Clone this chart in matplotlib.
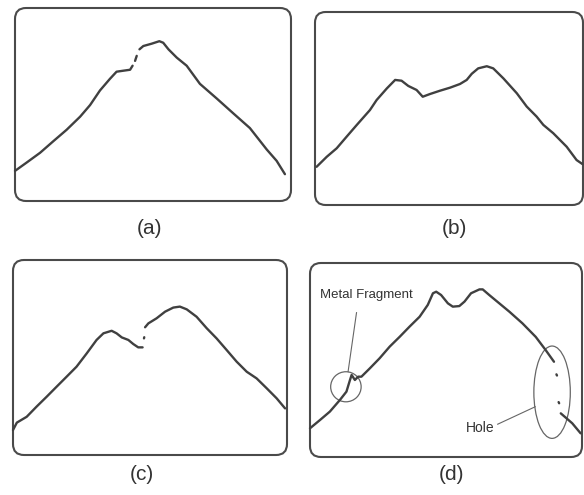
import matplotlib
matplotlib.use("Agg")
import matplotlib.pyplot as plt
import numpy as np
from matplotlib.patches import FancyBboxPatch, Ellipse

plt.rcParams['font.family'] = ['Liberation Sans', 'DejaVu Sans']

# traces, in percent of screen width / height (nan = gap in the trace)
a_x = [0, 4.2, 9.1, 13.9, 18.7, 23.6, 27.2, 30.8, 34.4, 36.8, 39.2, 41.7, 42.6,
       np.nan, 43.5, 44.1, np.nan, 45.1, 46.5, 49.5, 52.3, 53.7, 55.6, 58.6,
       62.2, 67.0, 73.1, 79.1, 85.1, 91.2, 94.8, 97.8]
a_y = [15.6, 19.9, 25.0, 31.0, 36.9, 43.7, 49.7, 57.3, 63.3, 67.0, 67.5, 68.0, 70.1,
       np.nan, 72.6, 75.2, np.nan, 78.6, 80.3, 81.5, 82.8, 82.0, 78.6, 74.3,
       70.1, 60.7, 53.1, 45.4, 37.8, 26.7, 20.8, 13.9]

b_x = [0.6, 4.4, 8.1, 11.8, 15.6, 20.5, 23.0, 26.8, 29.9, 32.3, 34.8, 37.9, 40.2,
       42.9, 46.6, 50.4, 54.1, 56.6, 58.5, 60.9, 64.1, 66.5, 70.3, 75.3, 79.0,
       82.7, 85.2, 88.9, 93.9, 97.6, 99.8]
b_y = [19.8, 25.0, 29.4, 35.4, 41.5, 49.2, 54.4, 60.4, 64.8, 64.4, 61.7, 59.6, 56.1,
       57.5, 59.2, 60.8, 62.7, 64.8, 68.0, 70.8, 71.9, 70.8, 65.6, 57.9, 51.0,
       45.8, 41.5, 37.2, 30.2, 23.3, 21.2]

c_x = [0, 1.4, 5.0, 8.6, 12.3, 15.9, 19.6, 23.2, 26.9, 30.5, 33.0, 36.0, 37.8,
       39.7, 42.1, 43.9, 45.7, 47.3, np.nan, 47.8, 47.9, np.nan, 48.2, 49.4, 52.4,
       55.5, 58.5, 60.9, 63.4, 67.0, 70.7, 74.3, 78.0, 81.6, 85.3, 88.9, 92.6,
       96.2, 99.3]
c_y = [12.8, 16.6, 19.6, 24.8, 29.9, 35.0, 40.2, 45.3, 52.1, 59.0, 62.4, 63.7, 62.4,
       60.3, 59.0, 56.9, 55.2, 55.2, np.nan, 59.8, 60.4, np.nan, 65.5, 67.5, 70.1,
       73.5, 75.6, 76.1, 74.7, 70.9, 65.0, 59.8, 53.8, 47.9, 42.7, 39.3, 34.2,
       29.1, 23.9]

d_x = [0, 3.7, 7.3, 11.0, 13.4, 14.7, 15.3, 16.5, 17.7, 18.9, 22.0, 25.6, 29.3,
       33.0, 36.6, 40.3, 43.3, 45.2, 46.4, 48.2, 50.7, 52.5, 54.9, 56.8, 59.2,
       62.3, 63.5, 65.9, 69.6, 73.3, 78.1, 83.0, 86.6, 89.7, np.nan, 90.6, 90.8,
       np.nan, 91.4, 91.6, np.nan, 92.2, 96.4, 99.5]
d_y = [14.8, 19.1, 23.4, 29.4, 33.7, 39.7, 42.3, 39.7, 41.4, 41.4, 45.7, 50.9, 56.9,
       62.0, 67.2, 72.3, 78.4, 84.4, 85.2, 83.5, 79.2, 77.5, 77.8, 80.1, 84.4,
       86.4, 86.4, 83.5, 79.2, 74.9, 68.9, 61.9, 55.2, 49.1, np.nan, 42.6, 42.0,
       np.nan, 28.3, 27.7, np.nan, 22.5, 17.4, 12.2]

labels = ['(a)', '(b)', '(c)', '(d)']

fig = plt.figure(figsize=(5.84, 4.95), dpi=100)
W, H = 584, 495

# screen boxes in pixels: left, top, right, bottom
boxes = [(15, 8, 291, 201), (315, 12, 583, 205), (13, 260, 287, 455), (310, 263, 582, 457)]
traces = [(a_x, a_y), (b_x, b_y), (c_x, c_y), (d_x, d_y)]
label_pos = [(149, 228), (454, 228), (142, 475), (451, 475)]

axes = []
for (l, t, r, b), (tx, ty) in zip(boxes, traces):
    ax = fig.add_axes([l / W, 1 - b / H, (r - l) / W, (b - t) / H])
    ax.set_xlim(0, 100)
    ax.set_ylim(0, 100)
    ax.axis('off')
    asp = (r - l) / (b - t)
    box = FancyBboxPatch((0, 0), 1, 1, boxstyle="round,pad=0,rounding_size=0.04",
                         mutation_aspect=asp, transform=ax.transAxes,
                         fill=False, edgecolor='#4a4a4a', linewidth=1.5, clip_on=False)
    ax.add_patch(box)
    ax.plot(tx, ty, color='#404040', linewidth=1.7, solid_capstyle='round', clip_on=False)
    axes.append(ax)

for lab, (x, y) in zip(labels, label_pos):
    fig.text(x / W, 1 - y / H, lab, ha='center', va='center', fontsize=15, color='#333333')

# annotations on panel (d)
ax = axes[3]
ax.add_patch(Ellipse((13.2, 36.2), 11.2, 15.5, fill=False, edgecolor='#666666', linewidth=0.9))
ax.add_patch(Ellipse((89.0, 33.4), 13.4, 47.6, fill=False, edgecolor='#666666', linewidth=0.9))
ax.text(3.7, 83.5, 'Metal Fragment', fontsize=9.5, color='#333333', va='center', ha='left')
ax.plot([17.1, 14.0], [74.4, 44.0], color='#666666', linewidth=0.8)
ax.text(57.4, 14.8, 'Hole', fontsize=10, color='#333333', va='center', ha='left')
ax.plot([69.0, 82.8], [16.9, 25.9], color='#666666', linewidth=0.8)

fig.savefig('out.png', dpi=100, facecolor='white')
